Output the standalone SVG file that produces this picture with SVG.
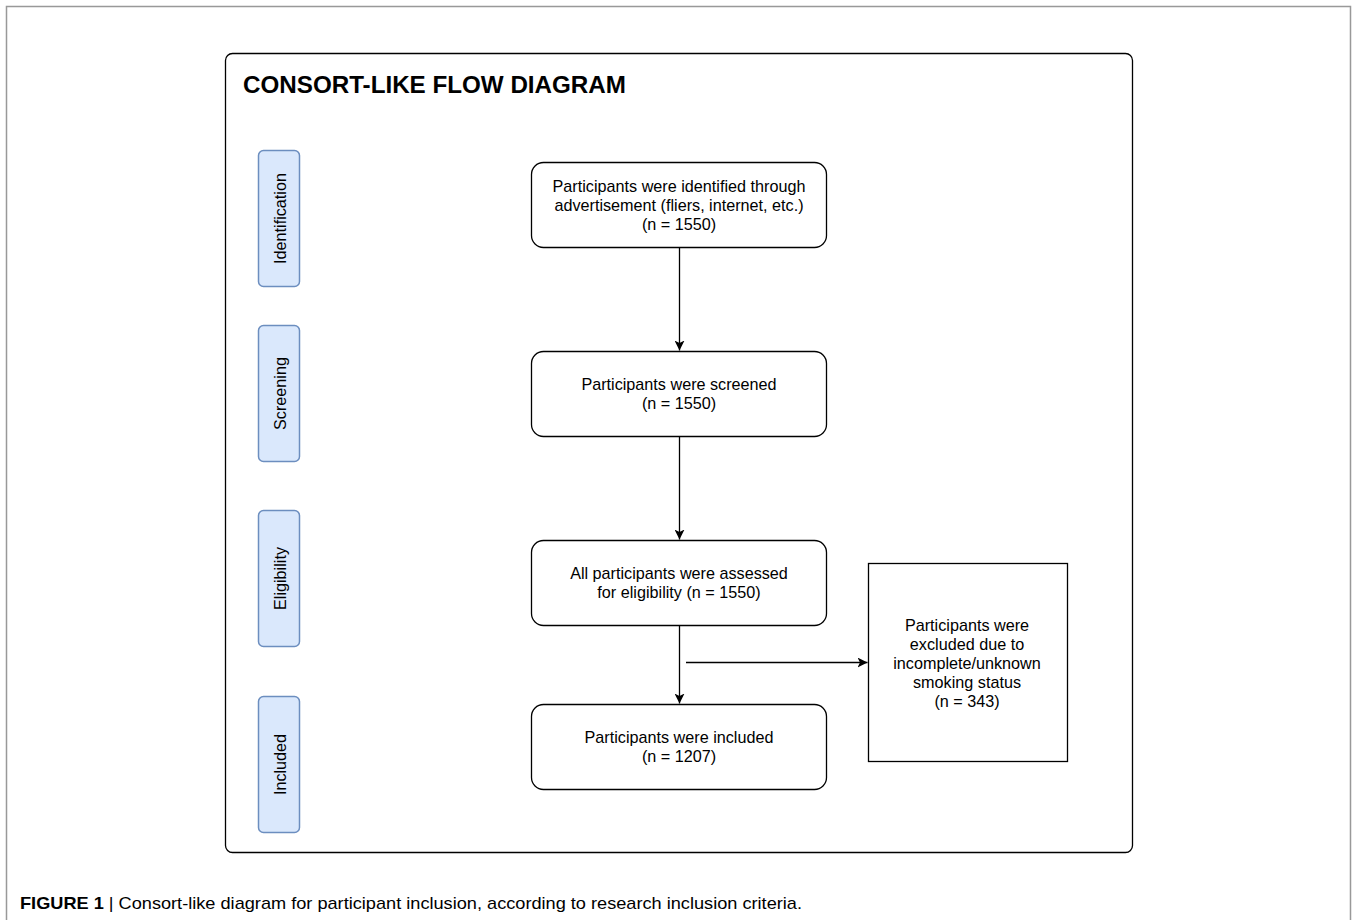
<svg xmlns="http://www.w3.org/2000/svg" width="1352" height="920" viewBox="0 0 1352 920">
<defs>
<style>
.t{font-family:"Liberation Sans",Arial,sans-serif;font-size:16.2px;fill:#000;text-anchor:middle}
.lane rect{fill:#dae8fc;stroke:#6c8ebf;stroke-width:1.5}
.box{fill:#fff;stroke:#000;stroke-width:1.3}
.conn line{stroke:#000;stroke-width:1.3}
</style>
<marker id="ah" viewBox="0 0 10 10" refX="10" refY="5" markerWidth="10" markerHeight="10" markerUnits="userSpaceOnUse" orient="auto">
<path d="M0,0 L10,5 L0,10 L2.5,5 Z" fill="#000"/>
</marker>
</defs>
<rect width="1352" height="920" fill="#fff"/>
<path d="M6.5,920 V6.5 H1350.5 V920" fill="none" stroke="#999" stroke-width="1.5"/>
<rect x="225.5" y="53.5" width="907" height="799" rx="7" fill="#fff" stroke="#000" stroke-width="1.3"/>
<text x="243" y="93" style="font-family:'Liberation Sans',Arial,sans-serif;font-size:24.2px;font-weight:bold">CONSORT-LIKE FLOW DIAGRAM</text>

<g id="lane-identification" class="lane"><rect x="258.5" y="150.5" width="41" height="136" rx="5"/><text class="t" transform="translate(285.5,218.5) rotate(-90)">Identification</text></g>
<g id="lane-screening" class="lane"><rect x="258.5" y="325.5" width="41" height="136" rx="5"/><text class="t" transform="translate(285.5,393.5) rotate(-90)">Screening</text></g>
<g id="lane-eligibility" class="lane"><rect x="258.5" y="510.5" width="41" height="136" rx="5"/><text class="t" transform="translate(285.5,578.5) rotate(-90)">Eligibility</text></g>
<g id="lane-included" class="lane"><rect x="258.5" y="696.5" width="41" height="136" rx="5"/><text class="t" transform="translate(285.5,764.5) rotate(-90)">Included</text></g>

<g id="identified"><rect class="box" x="531.5" y="162.5" width="295" height="85" rx="12"/>
<text class="t" x="679" y="192">Participants were identified through</text>
<text class="t" x="679" y="211">advertisement (fliers, internet, etc.)</text>
<text class="t" x="679" y="230">(n = 1550)</text></g>

<g id="screened"><rect class="box" x="531.5" y="351.5" width="295" height="85" rx="12"/>
<text class="t" x="679" y="390">Participants were screened</text>
<text class="t" x="679" y="409">(n = 1550)</text></g>

<g id="eligibility"><rect class="box" x="531.5" y="540.5" width="295" height="85" rx="12"/>
<text class="t" x="679" y="579">All participants were assessed</text>
<text class="t" x="679" y="598">for eligibility (n = 1550)</text></g>

<g id="included"><rect class="box" x="531.5" y="704.5" width="295" height="85" rx="12"/>
<text class="t" x="679" y="743">Participants were included</text>
<text class="t" x="679" y="762">(n = 1207)</text></g>

<g id="excluded"><rect class="box" x="868.5" y="563.5" width="199" height="198"/>
<text class="t" x="967" y="631">Participants were</text>
<text class="t" x="967" y="650">excluded due to</text>
<text class="t" x="967" y="669">incomplete/unknown</text>
<text class="t" x="967" y="688">smoking status</text>
<text class="t" x="967" y="707">(n = 343)</text></g>

<g id="connectors" class="conn">
<line x1="679.5" y1="247.5" x2="679.5" y2="350.5" marker-end="url(#ah)"/>
<line x1="679.5" y1="436.5" x2="679.5" y2="539.5" marker-end="url(#ah)"/>
<line x1="679.5" y1="625.5" x2="679.5" y2="703.5" marker-end="url(#ah)"/>
<line x1="686" y1="662.5" x2="867.5" y2="662.5" marker-end="url(#ah)"/>
</g>

<text x="20" y="909" style="font-family:'Liberation Sans',Arial,sans-serif;font-size:17px" textLength="782" lengthAdjust="spacingAndGlyphs"><tspan font-weight="bold">FIGURE 1</tspan> | Consort-like diagram for participant inclusion, according to research inclusion criteria.</text>
</svg>
